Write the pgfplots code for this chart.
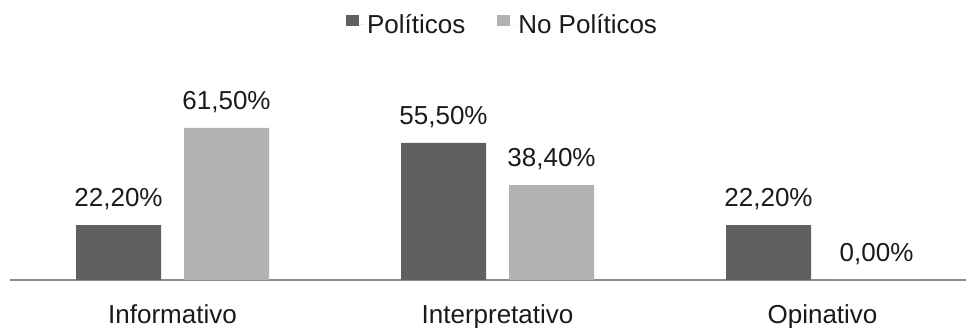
\documentclass[border=0pt]{standalone}
\usepackage{pgfplots}
\pgfplotsset{compat=1.18}
\usepackage{fontspec}
\setmainfont{Liberation Sans}
\definecolor{politicos}{HTML}{606060}
\definecolor{nopoliticos}{HTML}{B2B2B2}
\definecolor{baseline}{HTML}{8C8C8C}
\definecolor{labeltext}{HTML}{1A1A1A}
\newcommand{\chartfont}{\fontsize{26}{30}\selectfont}
\begin{document}
\begin{tikzpicture}[x=1pt,y=1pt]
\path[use as bounding box] (0,0) rectangle (966,328);
\begin{axis}[
  at={(10pt,48pt)}, anchor=south west,
  scale only axis, width=956pt, height=280pt,
  xmin=-0.5, xmax=2.4415, ymin=0, ymax=113.29,
  ybar, bar width=85pt,
  axis x line=bottom, axis y line=none,
  x axis line style={-, draw=baseline, line width=2pt},
  ytick=\empty,
  xtick={0,1,2},
  xticklabels={Informativo,Interpretativo,Opinativo},
  major tick length=0pt,
  xticklabel style={anchor=base, yshift=-44pt, font=\chartfont, text=labeltext},
  nodes near coords={\pgfmathprintnumber[fixed, fixed zerofill, precision=2, use comma, assume math mode=true]{\pgfplotspointmeta}\%},
  every node near coord/.append style={anchor=base, yshift=18.5pt, font=\chartfont, text=labeltext},
  legend columns=2,
  legend style={at={(axis description cs:0.5152,0.9107)}, anchor=center,
    draw=none, fill=none, font=\chartfont, text=labeltext,
    /tikz/every even column/.append style={column sep=30pt}},
  legend image code/.code={\fill[#1] (0pt,-1pt) rectangle (13pt,10pt);
    \path (0pt,0pt) -- (19pt,0pt);},
]
\addplot[draw=none, fill=politicos, bar shift=-54pt]
  coordinates {(0,22.2) (1,55.5) (2,22.2)};
\addplot[draw=none, fill=nopoliticos, bar shift=54pt]
  coordinates {(0,61.5) (1,38.4) (2,0)};
\legend{Políticos, No Políticos}
\end{axis}
\end{tikzpicture}
\end{document}
